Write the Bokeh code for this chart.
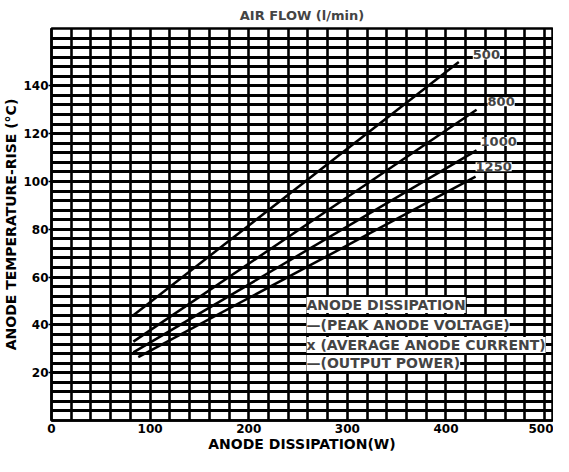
from bokeh.plotting import figure
from bokeh.models import FixedTicker, Label
from bokeh.embed import file_html
from bokeh.resources import INLINE

# ---- data ----
flows = ["500", "800", "1000", "1250"]
diss_500 = [83, 413]
temp_500 = [44, 150]
diss_800 = [83, 431]
temp_800 = [33, 130]
diss_1000 = [83, 431]
temp_1000 = [28.5, 113]
diss_1250 = [88, 430]
temp_1250 = [26.5, 102]

x_ticks = [0, 100, 200, 300, 400, 500]
y_ticks = [20, 40, 60, 80, 100, 120, 140]

note_lines = [
    "ANODE DISSIPATION",
    "\u2014(PEAK ANODE VOLTAGE)",
    "x (AVERAGE ANODE CURRENT)",
    "\u2014(OUTPUT POWER)",
]

FONT = "DejaVu Sans"

p = figure(width=553, height=456, x_range=(0, 508), y_range=(0, 164),
           output_backend="svg", toolbar_location=None,
           min_border_left=49, min_border_right=1,
           min_border_top=26, min_border_bottom=36)

p.title.text = "AIR FLOW (l/min)"
p.title.align = "center"
p.title.offset = 4
p.title.text_font = FONT
p.title.text_font_size = "13px"
p.title.text_font_style = "bold"
p.title.standoff = 11

p.outline_line_color = "black"
p.outline_line_width = 2.5

# grid
p.xgrid.ticker = FixedTicker(ticks=list(range(0, 501, 20)))
p.ygrid.ticker = FixedTicker(ticks=list(range(0, 165, 4)))
p.xgrid.grid_line_color = "black"
p.ygrid.grid_line_color = "black"
p.xgrid.grid_line_width = 2.6
p.ygrid.grid_line_width = 3
p.xgrid.grid_line_alpha = 1
p.ygrid.grid_line_alpha = 1

# axes
p.xaxis.ticker = FixedTicker(ticks=x_ticks)
p.yaxis.ticker = FixedTicker(ticks=y_ticks)
p.xaxis.axis_label = "ANODE DISSIPATION(W)"
p.yaxis.axis_label = "ANODE TEMPERATURE-RISE (\u00b0C)"
for ax in (p.xaxis[0], p.yaxis[0]):
    ax.axis_line_color = "black"
    ax.axis_line_width = 2.5
    ax.major_tick_line_color = "black"
    ax.major_tick_line_width = 1.5
    ax.minor_tick_line_color = None
    ax.major_tick_in = 0
    ax.major_label_text_font = FONT
    ax.major_label_text_font_size = "12px"
    ax.major_label_text_font_style = "bold"
    ax.major_label_text_color = "black"
    ax.axis_label_text_font = FONT
    ax.axis_label_text_font_size = "14px"
    ax.axis_label_text_font_style = "bold"
    ax.axis_label_text_color = "black"
p.xaxis.major_tick_out = 0
p.xaxis.major_label_standoff = 3
p.xaxis.axis_label_standoff = 0
p.yaxis.major_tick_out = 3
p.yaxis.major_label_standoff = 0
p.yaxis.axis_label_standoff = 1

series = [(diss_500, temp_500), (diss_800, temp_800),
          (diss_1000, temp_1000), (diss_1250, temp_1250)]
label_offsets = [(14, 7), (11, 8), (4, 9), (0, 10)]

for (xs, ys), name, (dx, dy) in zip(series, flows, label_offsets):
    p.line(xs, ys, line_color="black", line_width=2.5)
    p.add_layout(Label(x=xs[-1], y=ys[-1], text=name, x_offset=dx, y_offset=dy,
                       text_font=FONT, text_font_size="13px", text_font_style="bold",
                       text_baseline="middle", text_align="left",
                       background_fill_color="white"))

note_y = [48.3, 40.0, 31.6, 24.1]
for txt, yy in zip(note_lines, note_y):
    p.add_layout(Label(x=258.6, y=yy, text=txt,
                       text_font=FONT, text_font_size="14px", text_font_style="bold",
                       text_baseline="middle", text_align="left",
                       background_fill_color="white"))

open("out.html", "w").write(file_html(p, INLINE))
